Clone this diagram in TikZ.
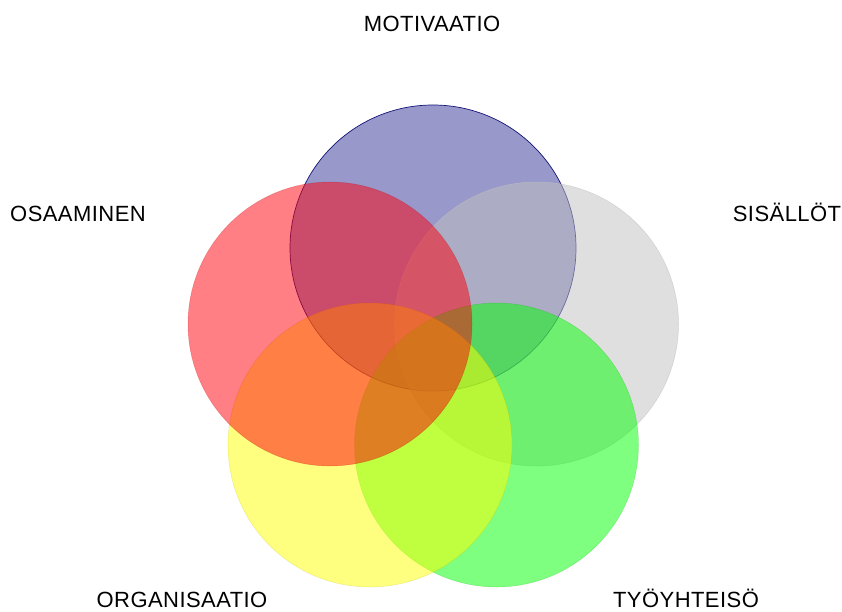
\documentclass[tikz,border=0pt]{standalone}
\usepackage{fontspec}
\setmainfont{Liberation Sans}[LetterSpace=2]
\begin{document}
\begin{tikzpicture}[x=1pt,y=-1pt,
  disc/.style={fill opacity=0.5,draw opacity=0.6,line width=0.5pt},
  lbl/.style={anchor=base,inner sep=0pt,font=\fontsize{22}{25}\selectfont}]
\useasboundingbox (0,0) rectangle (842,612);
\fill[white] (0,0) rectangle (842,612);
\definecolor{cblue}{RGB}{51,51,153}
\definecolor{cgrey}{RGB}{192,192,192}
\definecolor{cgreen}{RGB}{0,255,0}
\definecolor{cyellow}{RGB}{255,255,0}
\definecolor{cred}{RGB}{255,0,10}
\definecolor{navy}{RGB}{20,20,120}
\path[disc,fill=cblue,draw=navy,draw opacity=1,line width=0.7pt] (433,248) circle (143);
\path[disc,fill=cgrey,draw=cgrey] (536.5,324) circle (142);
\path[disc,fill=cgreen,draw=cgreen!70!black,draw opacity=0.25] (496.5,445) circle (142);
\path[disc,fill=cyellow,draw=cyellow!70!black,draw opacity=0.25] (370,445) circle (142);
\path[disc,fill=cred,draw=cred!70!black,draw opacity=0.25] (330,324) circle (142);
\node[lbl] (mot) at (432,32) {MOTIVAATIO};
\node[lbl] (osa) at (78,222) {OSAAMINEN};
\node[lbl] (sis) at (787,222) {SISÄLLÖT};
\node[lbl] (org) at (182,607) {ORGANISAATIO};
\node[lbl] (tyo) at (686,607) {TYÖYHTEISÖ};
\end{tikzpicture}
\end{document}
